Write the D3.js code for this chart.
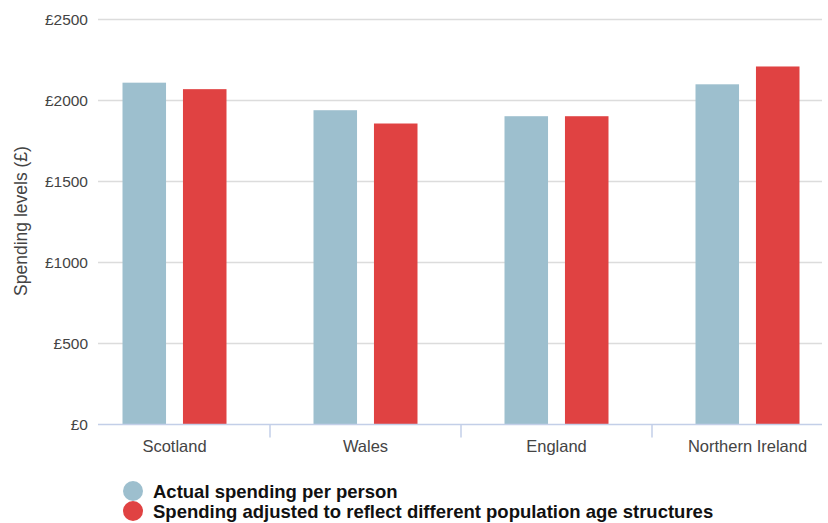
<!DOCTYPE html>
<html><head><meta charset="utf-8">
<script src="https://cdn.jsdelivr.net/npm/d3@7"></script>
<style>body{margin:0;background:#fff;} svg{display:block;font-family:"Liberation Sans",Arial,sans-serif;}</style>
</head><body>
<svg id="c" width="828" height="523"></svg>
<script>
const categories = ["Scotland", "Wales", "England", "Northern Ireland"];
const seriesNames = ["Actual spending per person", "Spending adjusted to reflect different population age structures"];
const actual = [2110, 1940, 1903, 2100];
const adjusted = [2070, 1858, 1903, 2210];
const yTicks = [0, 500, 1000, 1500, 2000, 2500];
const colors = ["#9dbfce", "#e04242"];

const svg = d3.select("#c");
const plotLeft = 98, plotRight = 822;
const x = d3.scaleBand().domain(categories).range([79, 843]);
const y = d3.scaleLinear().domain([0, 2500]).range([424.5, 19.5]);
const x1 = d3.scaleBand().domain([0, 1]).range([0, 104]).paddingInner(0.28);

// gridlines
svg.append("g").selectAll("line").data(yTicks.filter(d => d > 0)).join("line")
  .attr("x1", plotLeft).attr("x2", plotRight)
  .attr("y1", d => y(d)).attr("y2", d => y(d))
  .attr("stroke", "#dcdcdc").attr("stroke-width", 1.5);

// y labels
svg.append("g").selectAll("text").data(yTicks).join("text")
  .attr("x", 88).attr("y", d => y(d)).attr("dy", "0.35em")
  .attr("text-anchor", "end").attr("font-size", 15.5).attr("fill", "#444")
  .text(d => "£" + d);

svg.append("text").attr("transform", "translate(21,221) rotate(-90)")
  .attr("text-anchor", "middle").attr("dy", "0.35em").attr("font-size", 17.5).attr("fill", "#444")
  .text("Spending levels (£)");

// bars
const data = categories.map((c, i) => ({c, vals: [actual[i], adjusted[i]]}));
const g = svg.append("g").selectAll("g").data(data).join("g")
  .attr("transform", d => `translate(${x(d.c) + (x.bandwidth() - 104) / 2},0)`);
g.selectAll("rect").data(d => d.vals.map((v, k) => ({v, k}))).join("rect")
  .attr("x", d => x1(d.k)).attr("width", x1.bandwidth())
  .attr("y", d => y(d.v)).attr("height", d => y(0) - y(d.v))
  .attr("fill", d => colors[d.k]);

// x axis line
svg.append("line").attr("x1", plotLeft).attr("x2", plotRight)
  .attr("y1", y(0)).attr("y2", y(0)).attr("stroke", "#c3cfe8").attr("stroke-width", 1.5);
// ticks between categories
svg.append("g").selectAll("line").data(categories.slice(1)).join("line")
  .attr("x1", d => x(d)).attr("x2", d => x(d))
  .attr("y1", y(0)).attr("y2", y(0) + 13).attr("stroke", "#c3cfe8").attr("stroke-width", 1.5);
svg.append("g").selectAll("text").data(categories).join("text")
  .attr("x", d => x(d) + x.bandwidth() / 2).attr("y", 452)
  .attr("text-anchor", "middle").attr("font-size", 16.5).attr("fill", "#444")
  .text(d => d);

// legend
const lg = svg.append("g").selectAll("g").data(seriesNames).join("g")
  .attr("transform", (d, i) => `translate(133,${491 + i * 20})`);
lg.append("circle").attr("r", 10).attr("fill", (d, i) => colors[i]);
lg.append("text").attr("x", 20).attr("y", 6.5).attr("font-size", 18.5)
  .attr("font-weight", "bold").attr("fill", "#111").text(d => d);
</script>
</body></html>
